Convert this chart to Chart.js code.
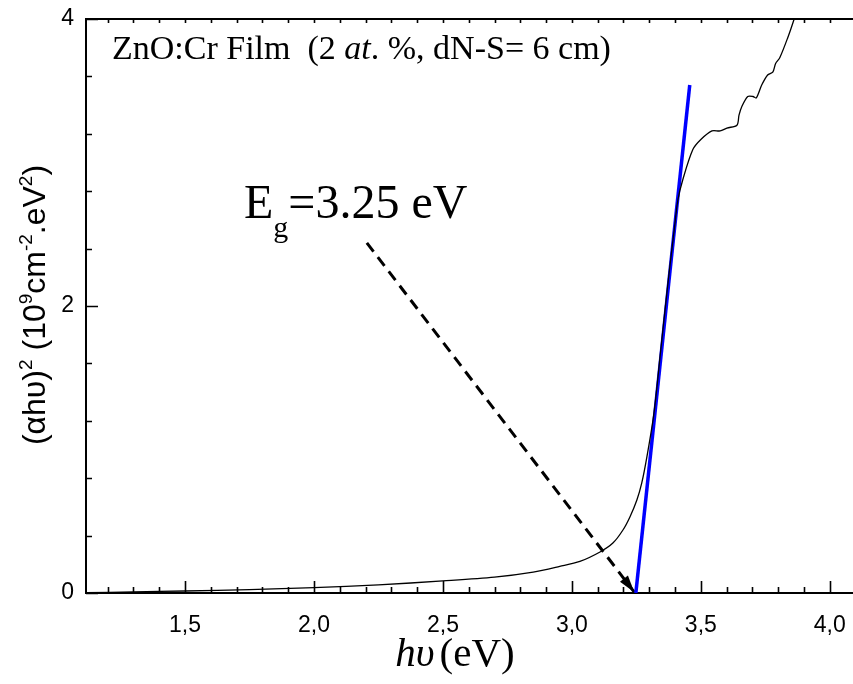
<!DOCTYPE html>
<html>
<head>
<meta charset="utf-8">
<title>ZnO:Cr band gap</title>
<script src="https://cdn.jsdelivr.net/npm/chart.js@4.4.1/dist/chart.umd.min.js"></script>
<style>
  html, body { margin: 0; padding: 0; background: #fff; overflow: hidden; }
  #wrap { width: 853px; height: 684px; }
</style>
</head>
<body>
<div id="wrap"><canvas id="tauc" width="853" height="684"></canvas></div>
<script>
// Tauc plot data: (alpha*h*nu)^2 vs photon energy
const energy = [1.116, 1.3, 1.5, 1.75, 2.0, 2.25, 2.5, 2.7, 2.85, 2.953, 3.031, 3.109, 3.159,
  3.198, 3.225, 3.252, 3.271, 3.291, 3.318, 3.345, 3.375, 3.398, 3.411, 3.43, 3.469, 3.5,
  3.543, 3.575, 3.601, 3.64, 3.648, 3.659, 3.682, 3.702, 3.715, 3.736, 3.759, 3.779, 3.79,
  3.806, 3.837, 3.86, 3.875];
const absorb = [0.002, 0.008, 0.014, 0.024, 0.037, 0.057, 0.084, 0.11, 0.145, 0.185, 0.22,
  0.286, 0.348, 0.439, 0.53, 0.648, 0.767, 0.95, 1.25, 1.7, 2.2, 2.55, 2.74, 2.88, 3.09, 3.16,
  3.22, 3.22, 3.24, 3.26, 3.33, 3.39, 3.46, 3.46, 3.45, 3.54, 3.61, 3.63, 3.69, 3.73, 3.87,
  3.99, 4.08];

// linear fit of the absorption edge
const fitX = [3.248, 3.457];
const fitY = [0, 3.54];

// pointer from the label down to the intercept
const guideX = [2.205, 3.242];
const guideY = [2.44, 0.006];

const xTicks = [1.5, 2.0, 2.5, 3.0, 3.5, 4.0];
const yTicks = [0, 2, 4];

const xMin = 1.116, xMax = 4.09;
const yMin = 0, yMax = 4;

const serif = '"Liberation Serif", "Times New Roman", serif';
const sans = '"Liberation Sans", Arial, sans-serif';

function pts(xs, ys) {
  return xs.map((x, i) => ({ x: x, y: ys[i] }));
}

// write a run of text pieces with different fonts / offsets, left to right
function runWidth(ctx, runs) {
  let w = 0;
  runs.forEach(r => { ctx.font = r.font; w += ctx.measureText(r.t).width + (r.dx || 0); });
  return w;
}
function drawRuns(ctx, runs, x, y) {
  runs.forEach(r => {
    ctx.font = r.font;
    x += r.dx || 0;
    ctx.fillText(r.t, x, y + (r.dy || 0));
    x += ctx.measureText(r.t).width;
  });
}

// inward ticks, frame and the text labels
const framePlugin = {
  id: 'frame',
  afterDraw(chart) {
    const ctx = chart.ctx;
    const a = chart.chartArea;
    const xs = chart.scales.x, ys = chart.scales.y;
    ctx.save();
    ctx.strokeStyle = '#000';
    ctx.lineWidth = 2;
    ctx.beginPath();
    ctx.moveTo(a.left, a.top);
    ctx.lineTo(a.right, a.top);
    ctx.stroke();

    ctx.lineWidth = 1.6;
    ctx.beginPath();
    for (let i = 12; i <= 40; i++) {
      const v = i / 10;
      const px = Math.round(xs.getPixelForValue(v)) + 0.5;
      const len = i % 5 === 0 ? 12 : 6;
      ctx.moveTo(px, a.bottom);
      ctx.lineTo(px, a.bottom - len);
      ctx.moveTo(px, a.top);
      ctx.lineTo(px, a.top + 4);
    }
    for (let i = 0; i <= 10; i++) {
      const v = i * 0.4;
      const py = Math.round(ys.getPixelForValue(v)) + 0.5;
      const len = i % 5 === 0 ? 12 : 6;
      ctx.moveTo(a.left, py);
      ctx.lineTo(a.left + len, py);
    }
    ctx.stroke();

    // arrow head on the dashed pointer
    const g = chart.getDatasetMeta(2).data;
    const p0 = g[0], p1 = g[g.length - 1];
    const ang = Math.atan2(p1.y - p0.y, p1.x - p0.x);
    ctx.translate(p1.x, p1.y);
    ctx.rotate(ang);
    ctx.fillStyle = '#000';
    ctx.beginPath();
    ctx.moveTo(0, 0);
    ctx.lineTo(-17, -5);
    ctx.lineTo(-17, 5);
    ctx.closePath();
    ctx.fill();
    ctx.setTransform(1, 0, 0, 1, 0, 0);

    ctx.fillStyle = '#000';
    ctx.textBaseline = 'alphabetic';
    ctx.textAlign = 'left';

    // sample caption
    drawRuns(ctx, [
      { t: 'ZnO:Cr Film  (2 ', font: '34px ' + serif },
      { t: 'at', font: 'italic 34px ' + serif },
      { t: '. %, dN-S= 6 cm)', font: '34px ' + serif }
    ], 112, 59);

    // band gap label
    drawRuns(ctx, [
      { t: 'E', font: '48px ' + serif },
      { t: 'g', font: '30px ' + serif, dy: 19 },
      { t: '=3.25 eV', font: '48px ' + serif }
    ], 244, 218);

    // x axis title
    const xt = [
      { t: 'hυ', font: 'italic 41px ' + serif },
      { t: '(eV)', font: '41px ' + serif, dx: 5 }
    ];
    drawRuns(ctx, xt, 455 - runWidth(ctx, xt) / 2, 666);

    // y axis title, rotated
    const yt = [
      { t: '(αhυ)', font: '32px ' + sans },
      { t: '2', font: '19px ' + sans, dy: -13 },
      { t: ' (10', font: '32px ' + sans },
      { t: '9', font: '19px ' + sans, dy: -13 },
      { t: 'cm', font: '32px ' + sans },
      { t: '-2', font: '19px ' + sans, dy: -13 },
      { t: '.eV', font: '32px ' + sans },
      { t: '2', font: '19px ' + sans, dy: -13 },
      { t: ')', font: '32px ' + sans }
    ];
    ctx.translate(45, 305);
    ctx.rotate(-Math.PI / 2);
    drawRuns(ctx, yt, -runWidth(ctx, yt) / 2, 0);
    ctx.restore();
  }
};

new Chart(document.getElementById('tauc').getContext('2d'), {
  type: 'line',
  data: {
    datasets: [{
      data: pts(energy, absorb),
      borderColor: '#000',
      borderWidth: 1.3,
      pointRadius: 0,
      tension: 0.3
    }, {
      data: pts(fitX, fitY),
      borderColor: '#0000ff',
      borderWidth: 3.5,
      pointRadius: 0
    }, {
      data: pts(guideX, guideY),
      borderColor: '#000',
      borderWidth: 3,
      borderDash: [11, 7],
      pointRadius: 0,
      clip: false
    }]
  },
  options: {
    responsive: false,
    animation: false,
    layout: { padding: { left: 0, right: 0, top: 19, bottom: 0 } },
    plugins: { legend: { display: false }, tooltip: { enabled: false } },
    scales: {
      x: {
        type: 'linear',
        min: xMin,
        max: xMax,
        afterBuildTicks: s => { s.ticks = xTicks.map(v => ({ value: v })); },
        afterFit: s => { s.height = 91; s.paddingLeft = 0; s.paddingRight = 0; },
        ticks: {
          padding: 19,
          color: '#000',
          font: { family: sans, size: 23 },
          maxRotation: 0,
          callback: v => v.toFixed(1).replace('.', ',')
        },
        grid: { drawOnChartArea: false, drawTicks: false },
        border: { color: '#000', width: 2 }
      },
      y: {
        min: yMin,
        max: yMax,
        afterBuildTicks: s => { s.ticks = yTicks.map(v => ({ value: v })); },
        afterFit: s => { s.width = 86; s.paddingTop = 0; s.paddingBottom = 0; },
        ticks: {
          padding: 12,
          color: '#000',
          font: { family: sans, size: 23 }
        },
        grid: { drawOnChartArea: false, drawTicks: false },
        border: { color: '#000', width: 2 }
      }
    }
  },
  plugins: [framePlugin]
});
</script>
</body>
</html>
